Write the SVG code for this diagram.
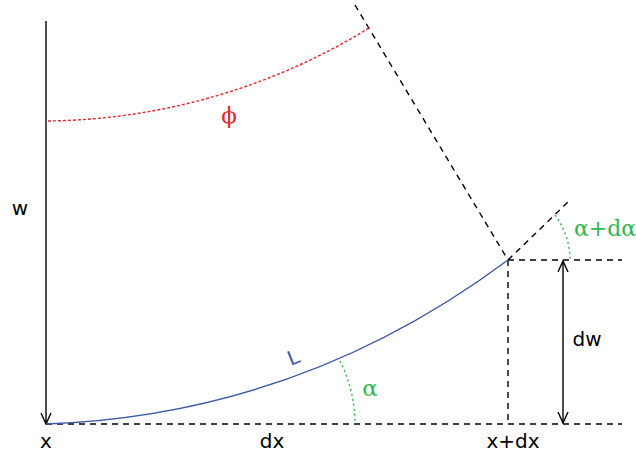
<svg xmlns="http://www.w3.org/2000/svg" width="636" height="457" viewBox="0 0 636 457">
<defs>
<style>
.dash{fill:none;stroke:#000;stroke-width:1.4;stroke-dasharray:6,5}
.solid{fill:none;stroke:#000;stroke-width:1.4}
.red{fill:none;stroke:#e8262b;stroke-width:1.4;stroke-dasharray:3,2}
.green{fill:none;stroke:#2fb84b;stroke-width:1.4;stroke-dasharray:2,3}
.blue{fill:none;stroke:#3f57a8;stroke-width:1.4}
.lab{font-family:"DejaVu Sans",sans-serif;font-size:20px;fill:#000;text-anchor:middle}
.greek{font-family:"DejaVu Serif","Liberation Serif",serif;font-size:23px;text-anchor:middle}
</style>
<marker id="ah" viewBox="0 0 12 12" refX="11" refY="6" markerWidth="12" markerHeight="12" markerUnits="userSpaceOnUse" orient="auto-start-reverse">
<path d="M0,1 L11,6 L0,11" fill="none" stroke="#000" stroke-width="1.4"/>
</marker>
</defs>
<g id="connectors">
<line class="solid" x1="46" y1="21" x2="46" y2="424" marker-end="url(#ah)"/>
<line class="dash" x1="46" y1="424" x2="622" y2="424"/>
<line class="dash" x1="508" y1="260" x2="622" y2="260"/>
<line class="dash" x1="508" y1="260" x2="508" y2="424"/>
<line class="dash" x1="355" y1="5" x2="508" y2="260"/>
<line class="dash" x1="508" y1="260" x2="569" y2="201"/>
<line class="solid" x1="563" y1="261" x2="563" y2="423" marker-start="url(#ah)" marker-end="url(#ah)"/>
</g>
<g id="curve-L">
<path class="blue" d="M46,424 Q300,415 508,260"/>
<text x="0" y="0" transform="translate(296,364) rotate(-22)" style="font-family:'DejaVu Sans',sans-serif;font-size:20px;fill:#3f57a8;text-anchor:middle">L</text>
</g>
<g id="phi-arc">
<path class="red" d="M48,121 A627,627 0 0 0 369,28"/>
<text class="greek" x="229" y="123" style="fill:#e8262b">ϕ</text>
</g>
<g id="alpha-arc">
<path class="green" d="M340,361 A140,140 0 0 1 355,424"/>
<text class="greek" x="370" y="396" style="fill:#2fb84b">α</text>
</g>
<g id="alpha-dalpha-arc">
<path class="green" d="M555,215 A75,75 0 0 1 570,260"/>
<text class="greek" x="605" y="236" style="fill:#2fb84b;font-size:22px">α+dα</text>
</g>
<g id="labels">
<text class="lab" x="20" y="215">w</text>
<text class="lab" x="46" y="448">x</text>
<text class="lab" x="272" y="448">dx</text>
<text class="lab" x="513" y="448">x+dx</text>
<text class="lab" x="587" y="346">dw</text>
</g>
</svg>
